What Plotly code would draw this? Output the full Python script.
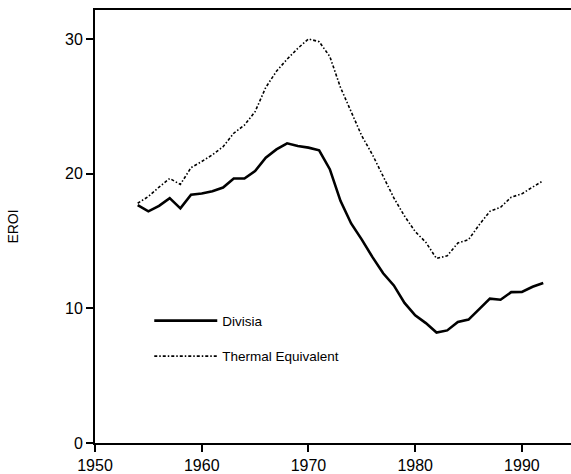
import plotly.graph_objects as go

years = list(range(1954, 1993))
divisia = [17.66, 17.2, 17.61, 18.18, 17.42, 18.43, 18.53, 18.7, 18.97, 19.64,
           19.64, 20.2, 21.19, 21.8, 22.25, 22.05, 21.93, 21.73, 20.33, 17.98,
           16.3, 15.1, 13.8, 12.6, 11.7, 10.4, 9.48, 8.9, 8.2, 8.36,
           8.98, 9.16, 9.94, 10.72, 10.64, 11.2, 11.21, 11.6, 11.88]
thermal = [17.8, 18.3, 19.0, 19.64, 19.2, 20.45, 20.9, 21.4, 22.0, 23.0,
           23.6, 24.6, 26.4, 27.6, 28.5, 29.3, 30.0, 29.8, 28.7, 26.4,
           24.6, 22.8, 21.4, 19.8, 18.2, 16.85, 15.7, 14.9, 13.7, 13.9,
           14.85, 15.1, 16.2, 17.2, 17.5, 18.25, 18.5, 19.0, 19.48]
x_ticks = [1950, 1960, 1970, 1980, 1990]
y_ticks = [0, 10, 20, 30]

fig = go.Figure()
fig.add_trace(go.Scatter(x=years, y=divisia, mode="lines", name="Divisia",
                         legendgroup="a",
                         line=dict(color="black", width=2.6)))
fig.add_trace(go.Scatter(x=years, y=thermal, mode="lines", name="Thermal Equivalent",
                         legendgroup="b",
                         line=dict(color="black", width=1.6, dash="3px,2px,1.5px,2px")))

fig.update_layout(
    width=571, height=474,
    margin=dict(l=95, r=0, t=10, b=29),
    plot_bgcolor="white", paper_bgcolor="white",
    font=dict(family="Liberation Sans, Arial, sans-serif", color="black", size=16),
    legend=dict(x=0.114, y=0.318, xanchor="left", yanchor="top",
                bgcolor="rgba(0,0,0,0)", font=dict(size=13.5),
                itemwidth=63, tracegroupgap=15),
    xaxis=dict(range=[1950, 1994.6], tickvals=x_ticks, showgrid=False, zeroline=False,
               showline=True, linecolor="black", linewidth=2, mirror=True,
               ticks="outside", ticklen=7, tickwidth=1.5, tickcolor="black"),
    yaxis=dict(range=[0, 32.15], tickvals=y_ticks, showgrid=False, zeroline=False,
               showline=True, linecolor="black", linewidth=2,
               ticks="outside", ticklen=7, tickwidth=1.5, tickcolor="black",
               title=dict(text="EROI", standoff=43, font=dict(size=14))),
)

fig.write_html("out.html", config={"displayModeBar": False},
               post_script="document.body.style.margin='0';")
